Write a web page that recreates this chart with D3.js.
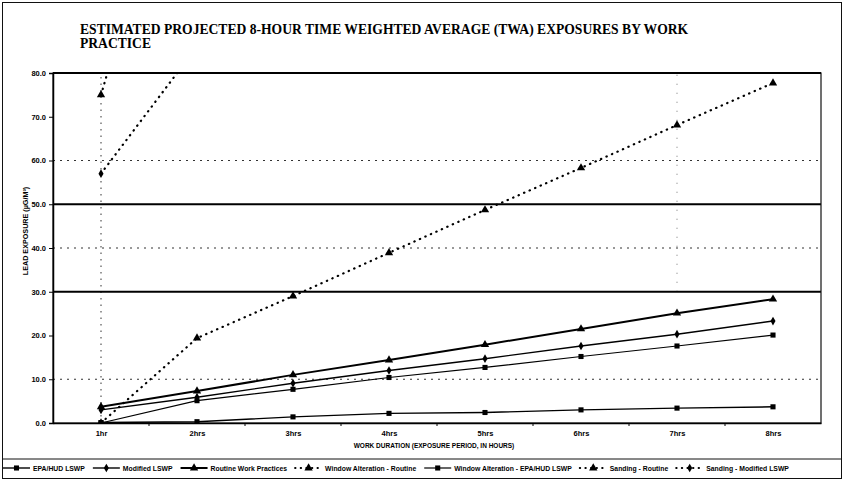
<!DOCTYPE html>
<html><head><meta charset="utf-8">
<script src="https://cdn.jsdelivr.net/npm/d3@7"></script>
<style>body{margin:0;background:#fff}svg{display:block}</style>
</head><body><svg id="c" width="844" height="482"></svg>
<script>
// ---- data ----
const categories = ["1hr","2hrs","3hrs","4hrs","5hrs","6hrs","7hrs","8hrs"];
const epaHud          = [0.1, 0.3, 1.4, 2.2, 2.4, 3.0, 3.4, 3.7];
const modifiedLswp    = [3.0, 5.9, 9.1, 12.0, 14.7, 17.6, 20.3, 23.3];
const routineWork     = [3.7, 7.3, 11.0, 14.4, 17.9, 21.5, 25.1, 28.3];
const windowRoutine   = [0.0, 19.4, 29.0, 38.9, 48.7, 58.3, 68.1, 77.7];
const windowEpaHud    = [0.0, 5.1, 7.7, 10.4, 12.7, 15.2, 17.6, 20.1];
const sandingRoutine  = [75.0, 150.0, 225.0, 300.0, 375.0, 450.0, 525.0, 600.0];
const sandingModified = [57.0, 86.0, 115.0, 143.0, 172.0, 200.0, 229.0, 258.0];
const seriesNames = ["EPA/HUD LSWP","Modified LSWP","Routine Work Practices","Window Alteration - Routine","Window Alteration - EPA/HUD LSWP","Sanding - Routine","Sanding - Modified LSWP"];
const yTicks = [0,10,20,30,40,50,60,70,80];
const referenceLines = [30, 50];
const dottedGrid = [10, 40, 60];
const titleLines = ["ESTIMATED PROJECTED 8-HOUR TIME WEIGHTED AVERAGE (TWA) EXPOSURES  BY WORK","PRACTICE"];
const xTitle = "WORK DURATION (EXPOSURE PERIOD, IN HOURS)";
const yTitle = "LEAD EXPOSURE (\u00b5G/M\u00b3)";

// ---- styles ----
const DOT = "0.4,5.6";
const styles = [
  {vals: epaHud,          marker:"square",   dash:null, w:1.4},
  {vals: modifiedLswp,    marker:"diamond",  dash:null, w:1.4},
  {vals: routineWork,     marker:"triangle", dash:null, w:2.0},
  {vals: windowRoutine,   marker:"triangle", dash:DOT,  w:2.2},
  {vals: windowEpaHud,    marker:"square",   dash:null, w:1.2},
  {vals: sandingRoutine,  marker:"triangle", dash:DOT,  w:2.2},
  {vals: sandingModified, marker:"diamond",  dash:DOT,  w:2.2}
];
const series = seriesNames.map((n,i)=>({name:n, ...styles[i]}));

const svg = d3.select("#c");
const L=53, R=821, T=73, B=423;
const x = d3.scalePoint(categories,[L,R]).padding(0.5);
const xb = d3.scaleBand(categories,[L,R]);
const y = d3.scaleLinear([0,80],[B,T]);
const sans = "'Liberation Sans Narrow','Liberation Sans',Arial,sans-serif";

// outer frame
svg.append("rect").attr("x",2.5).attr("y",2.5).attr("width",839).attr("height",476)
  .attr("fill","none").attr("stroke","#111").attr("stroke-width",1);

// title
const tt = svg.append("text").attr("font-family","'Liberation Serif','Times New Roman',serif")
  .attr("font-weight","bold").attr("font-size",13.6).attr("fill","#000");
titleLines.forEach((t,i)=>tt.append("tspan").attr("x",80).attr("y",34+i*14).text(t));

const clipId="plotclip";
svg.append("clipPath").attr("id",clipId).append("rect").attr("x",L).attr("y",T-1).attr("width",R-L).attr("height",B-T+2);

// grid
const g = svg.append("g");
g.selectAll(".dg").data(dottedGrid).join("line")
  .attr("x1",L).attr("x2",R).attr("y1",d=>y(d)).attr("y2",d=>y(d))
  .attr("stroke","#333").attr("stroke-width",1).attr("stroke-dasharray","2,5");
g.append("line").attr("x1",x(categories[0])).attr("x2",x(categories[0]))
  .attr("y1",y(0)).attr("y2",y(80)).attr("stroke","#333").attr("stroke-width",1).attr("stroke-dasharray","1.5,5");
g.append("line").attr("x1",x(categories[6])).attr("x2",x(categories[6]))
  .attr("y1",y(30)).attr("y2",y(80)).attr("stroke","#555").attr("stroke-width",0.8).attr("stroke-dasharray","1,8");
g.selectAll(".rl").data(referenceLines).join("line")
  .attr("x1",L).attr("x2",R).attr("y1",d=>y(d)).attr("y2",d=>y(d))
  .attr("stroke","#000").attr("stroke-width",2);

// plot border
svg.append("rect").attr("x",L).attr("y",T).attr("width",R-L).attr("height",B-T)
  .attr("fill","none").attr("stroke","#111").attr("stroke-width",1.2);
svg.append("line").attr("x1",L).attr("x2",R).attr("y1",T).attr("y2",T).attr("stroke","#000").attr("stroke-width",1.8);

// axes
const ya = svg.append("g").attr("transform",`translate(${L},0)`)
  .call(d3.axisLeft(y).tickValues(yTicks).tickFormat(d3.format(".1f")).tickSize(4).tickPadding(3));
ya.select(".domain").attr("stroke-width",1.5);
ya.selectAll("text").attr("font-family",sans).attr("font-weight","bold").attr("font-size",7.5);

const xa = svg.append("g").attr("transform",`translate(0,${B})`)
  .call(d3.axisBottom(x).tickSize(0).tickPadding(8));
xa.select(".domain").attr("stroke-width",1.5);
xa.selectAll("text").attr("font-family",sans).attr("font-weight","bold").attr("font-size",7.5);
svg.append("g").selectAll("line").data(categories.slice(1)).join("line")
  .attr("x1",d=>xb(d)).attr("x2",d=>xb(d)).attr("y1",B).attr("y2",B+3).attr("stroke","#000");

svg.append("text").attr("x",434).attr("y",448).attr("text-anchor","middle")
  .attr("font-family",sans).attr("font-weight","bold").attr("font-size",6.5).text(xTitle);
svg.append("text").attr("transform","translate(28,231) rotate(-90)").attr("text-anchor","middle")
  .attr("font-family",sans).attr("font-weight","bold").attr("font-size",7.2).text(yTitle);

// markers
const sym = {square:d3.symbolSquare, diamond:d3.symbolDiamond, triangle:d3.symbolTriangle};
const size = {square:26, diamond:22, triangle:30};
function marker(sel, m){ sel.attr("d", d3.symbol(sym[m], size[m])()).attr("fill","#000"); }

const plot = svg.append("g").attr("clip-path",`url(#${clipId})`);
const line = d3.line().x((d,i)=>x(categories[i])).y(d=>y(d));
series.forEach(s=>{
  plot.append("path").attr("d",line(s.vals)).attr("fill","none").attr("stroke","#000")
    .attr("stroke-width",s.w).attr("stroke-dasharray",s.dash).attr("stroke-linecap",s.dash?"round":"butt");
  plot.selectAll(null).data(s.vals).join("path")
    .attr("transform",(d,i)=>`translate(${x(categories[i])},${y(d)})`)
    .call(marker, s.marker);
});

// legend
svg.append("line").attr("x1",3).attr("x2",841).attr("y1",459).attr("y2",459).attr("stroke","#111");
const lg = svg.append("g");
let lx = 3;
series.forEach(s=>{
  const it = lg.append("g").attr("transform",`translate(${lx},468)`);
  it.append("line").attr("x1",0).attr("x2",27).attr("stroke","#000").attr("stroke-width",s.dash?2:s.w)
    .attr("stroke-dasharray",s.dash?"0.4,5.2":null).attr("stroke-linecap",s.dash?"round":"butt");
  it.append("path").attr("transform","translate(13.5,0)").call(marker,s.marker);
  const t = it.append("text").attr("transform","translate(30,2.6) scale(0.9,1)").attr("font-family",sans)
    .attr("font-weight","bold").attr("font-size",7.6).text(s.name);
  lx += 30 + t.node().getComputedTextLength()*0.9 + 8;
});
</script></body></html>
